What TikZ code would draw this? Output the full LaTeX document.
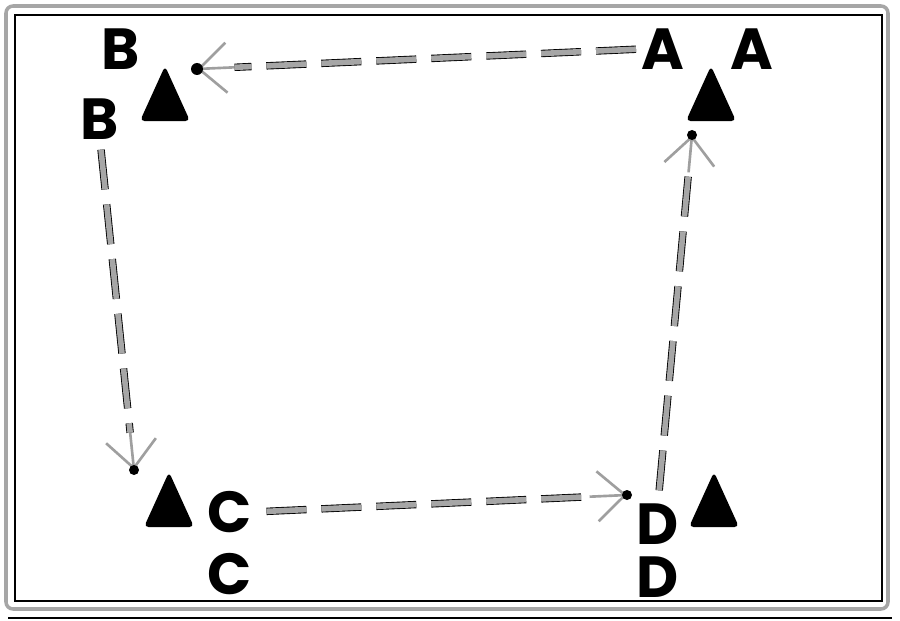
\documentclass[tikz,border=0pt]{standalone}
\usepackage{fontspec}
\setsansfont{Poppins}
\usetikzlibrary{calc,arrows.meta,positioning}

\tikzset{
  lbl/.style={font=\sffamily\bfseries\fontsize{33}{33}\selectfont, inner sep=0pt},
  tri/.style={fill=black, rounded corners=2.5pt},
  flow/.style={draw=black, line width=0.5pt, double=gray!70, double distance=3.2pt,
    dash pattern=on 0.8cm off 0.3cm},
  barb/.style={draw=gray!75, line width=1.5pt, -{Straight Barb[length=0.55cm,width=1.0cm]}},
}

\begin{document}
\begin{tikzpicture}
  \useasboundingbox (0,0) rectangle (18,12.4);
  % frame
  \draw[gray!70, line width=2pt, rounded corners=4pt](0.12,0.22) rectangle (17.76,12.28);
  \draw[line width=1.2pt](0.30,0.38) rectangle (17.64,12.1);
  \draw[line width=1.2pt](0.16,0.04)--(17.84,0.04);
  % warning triangles
  \coordinate(tA) at (14.22,9.98);
  \coordinate(tB) at (3.30,9.98);
  \coordinate(tC) at (3.38,1.86);
  \coordinate(tD) at (14.28,1.86);
  \foreach \t in {tA,tB,tC,tD}
    \fill[tri]($(\t)+(-0.5,0)$)--($(\t)+(0.5,0)$)--($(\t)+(0,1.1)$)--cycle;
  % labels
  \node[lbl](a1) at (13.26,11.42){A};
  \node[lbl](a2) at (15.04,11.42){A};
  \node[lbl](b1) at (2.42,11.42){B};
  \node[lbl](b2) at (2.0,10.02){B};
  \node[lbl](c1) at (4.6,2.16){C};
  \node[lbl](c2) at (4.6,0.92){C};
  \node[lbl](d1) at (13.16,1.92){D};
  \node[lbl](d2) at (13.16,0.86){D};
  % arrow ends
  \coordinate(eB) at (3.94,11.02);
  \coordinate(eC) at (2.68,3.0);
  \coordinate(eD) at (12.54,2.5);
  \coordinate(eA) at (13.84,9.7);
  % A -> B
  \draw[flow, shorten <=3pt](a1.west)--($(eB)!0.75cm!(a1.west)$);
  \draw[barb]($(eB)!0.75cm!(a1.west)$)--(eB);
  \fill(eB) circle (0.12);
  % B -> C
  \draw[flow, shorten <=0.2cm](b2.south)--($(eC)!0.75cm!(b2.south)$);
  \draw[barb]($(eC)!0.75cm!(b2.south)$)--(eC);
  \fill(eC) circle (0.1);
  % C -> D
  \draw[flow, shorten <=0.28cm](c1.east)--($(eD)!0.75cm!(c1.east)$);
  \draw[barb]($(eD)!0.75cm!(c1.east)$)--(eD);
  \fill(eD) circle (0.1);
  % D -> A
  \draw[flow, shorten <=0.26cm](d1.north)--($(eA)!0.75cm!(d1.north)$);
  \draw[barb]($(eA)!0.75cm!(d1.north)$)--(eA);
  \fill(eA) circle (0.1);
\end{tikzpicture}
\end{document}
